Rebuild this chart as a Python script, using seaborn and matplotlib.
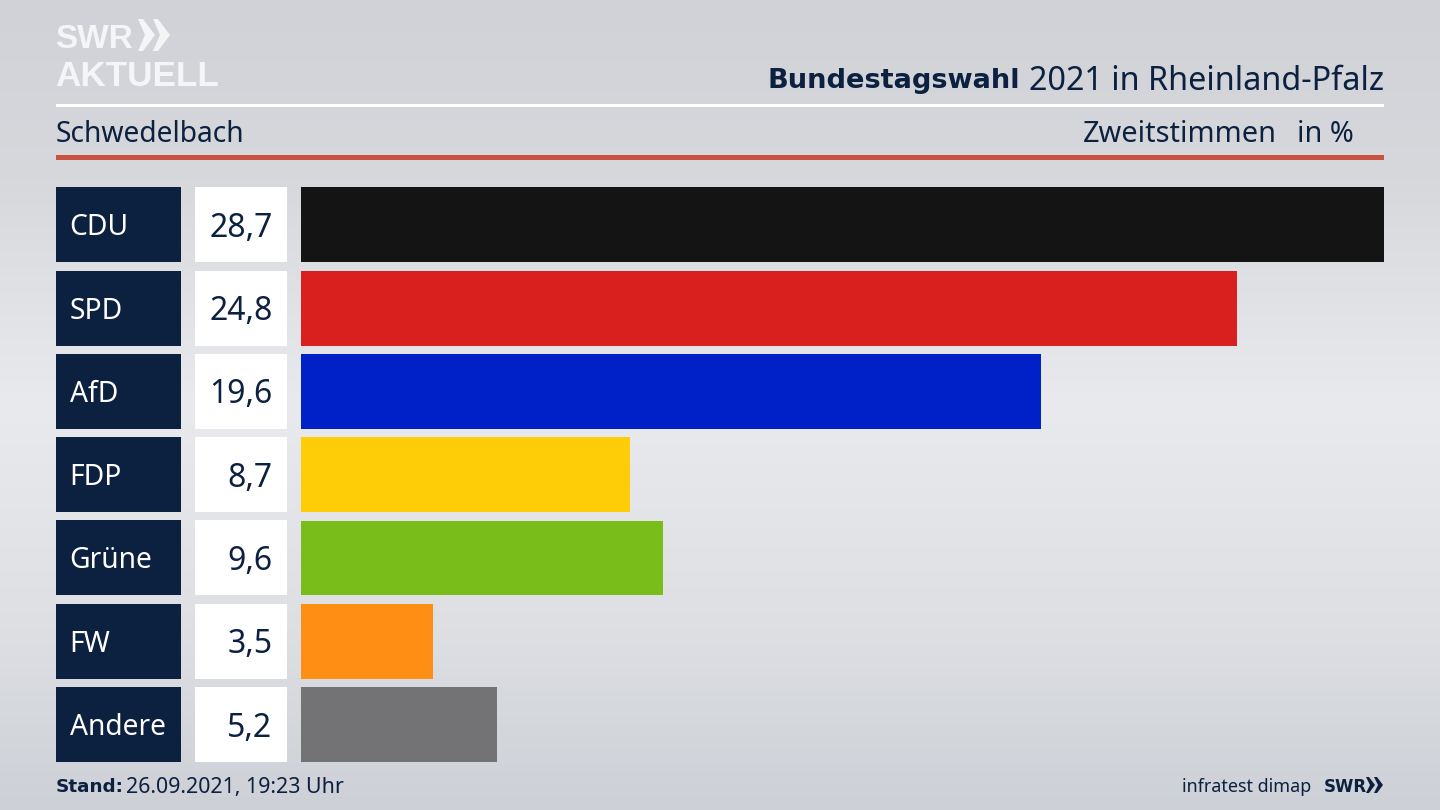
import numpy as np
import pandas as pd
import matplotlib
matplotlib.use("Agg")
import matplotlib.pyplot as plt
from matplotlib.colors import LinearSegmentedColormap
from matplotlib.patches import Rectangle, Polygon
import seaborn as sns

parties = ["CDU", "SPD", "AfD", "FDP", "Grüne", "FW", "Andere"]
shares = [28.7, 24.8, 19.6, 8.7, 9.6, 3.5, 5.2]
colors = ["#141414", "#d9201f", "#0021c8", "#ffcd08", "#79bd1a", "#ff8e15", "#737375"]
share_labels = ["28,7", "24,8", "19,6", "8,7", "9,6", "3,5", "5,2"]

NAVY = "#0c2040"
LOGO = "#f4f5f7"
FONT = "Noto Sans"
BOLD = "DejaVu Sans"
LOGO_FONT = "Liberation Sans"

sns.set_theme(style="white")
plt.rcParams["font.family"] = [FONT, "DejaVu Sans"]

fig = plt.figure(figsize=(14.4, 8.1), dpi=100)

# full-figure layer measured in pixels for the broadcast frame
bg = fig.add_axes([0, 0, 1, 1], zorder=0)
bg.set_xlim(0, 1440)
bg.set_ylim(810, 0)
bg.axis("off")
cmap = LinearSegmentedColormap.from_list(
    "bg", [(0, "#d0d2d7"), (0.22, "#d6d8dc"), (0.5, "#e9eaee"), (0.78, "#dddfe3"), (1, "#cdd0d6")]
)
yy = np.linspace(0, 1, 256).reshape(-1, 1)
bg.imshow(yy, cmap=cmap, extent=(0, 1440, 810, 0), aspect="auto", vmin=0, vmax=1)

# header rules
bg.add_patch(Rectangle((56, 104), 1328, 3, color="white", lw=0))
bg.add_patch(Rectangle((56, 155), 1328, 5, color="#c9523f", lw=0))

# header texts
bg.text(1384, 78, "2021 in Rheinland-Pfalz", ha="right", va="center_baseline",
        fontsize=23.3, color=NAVY)
bg.text(1020, 78, "Bundestagswahl", ha="right", va="center_baseline",
        fontsize=19.6, color=NAVY, fontweight="bold", family=BOLD)
bg.text(56, 131.5, "Schwedelbach", ha="left", va="center_baseline", fontsize=20.3, color=NAVY)
bg.text(1277, 131.5, "Zweitstimmen", ha="right", va="center_baseline", fontsize=20.8, color=NAVY)
bg.text(1354, 131.5, "in %", ha="right", va="center_baseline", fontsize=20.8, color=NAVY)

# logo
bg.text(55, 35.5, "SWR", ha="left", va="center_baseline", fontsize=24, fontweight="bold",
        family=LOGO_FONT, color=LOGO)
bg.text(55, 72.5, "AKTUELL", ha="left", va="center_baseline", fontsize=25.3, fontweight="bold",
        family=LOGO_FONT, color=LOGO)
for x0 in (138, 153):
    bg.add_patch(Polygon([(x0, 19), (x0 + 5, 19), (x0 + 17, 35), (x0 + 5, 51),
                          (x0, 51), (x0 + 7, 35)], color=LOGO, lw=0))

# bars
ax = fig.add_axes([301.3 / 1440, (810 - 762) / 810, (1384 - 301.3) / 1440, (762 - 187.4) / 810], zorder=2)
df = pd.DataFrame({"party": parties, "share": shares})
sns.barplot(data=df, x="share", y="party", hue="party", palette=colors, dodge=False,
            legend=False, width=0.9, saturation=1, ax=ax, linewidth=0)
ax.set_xlim(0, max(shares))
ax.set_ylim(6.45, -0.45)
ax.axis("off")
ax.patch.set_alpha(0)

# label and value boxes aligned with the bar categories
for i, (party, label) in enumerate(zip(parties, share_labels)):
    top = 187.4 + i * 83.27
    bg.add_patch(Rectangle((56, top), 125, 75, color=NAVY, lw=0))
    bg.add_patch(Rectangle((195, top), 92, 75, color="white", lw=0))
    bg.text(69.5, top + 37, party, ha="left", va="center_baseline", fontsize=20.3, color="white")
    bg.text(272.5, top + 37, label, ha="right", va="center_baseline", fontsize=23, color=NAVY)

# footer
bg.text(56, 785, "Stand:", ha="left", va="center_baseline", fontsize=13.2, fontweight="bold",
        family=BOLD, color=NAVY)
bg.text(126, 785, "26.09.2021, 19:23 Uhr", ha="left", va="center_baseline", fontsize=15.4, color=NAVY)
bg.text(1311, 785, "infratest dimap", ha="right", va="center_baseline", fontsize=12.9, color=NAVY)
bg.text(1324, 785, "SWR", ha="left", va="center_baseline", fontsize=12, fontweight="bold",
        family=BOLD, color=NAVY)
for x0 in (1366, 1374):
    bg.add_patch(Polygon([(x0, 777), (x0 + 3, 777), (x0 + 9, 785), (x0 + 3, 793),
                          (x0, 793), (x0 + 4, 785)], color=NAVY, lw=0))

fig.savefig("out.png", dpi=100)
